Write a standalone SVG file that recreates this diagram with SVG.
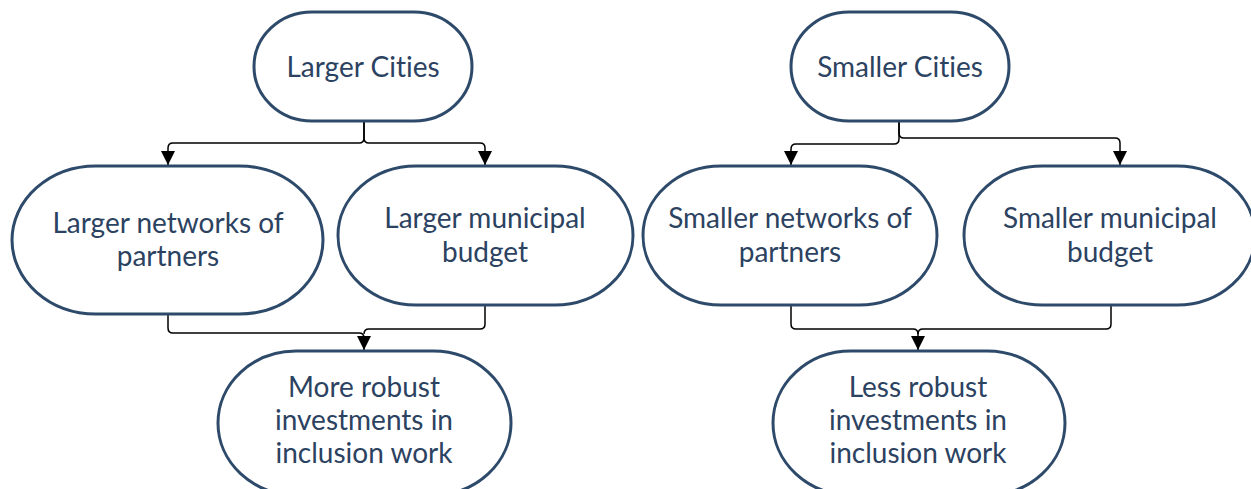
<svg xmlns="http://www.w3.org/2000/svg" width="1251" height="489" viewBox="0 0 1251 489">
  <defs>
    <marker id="arrow" viewBox="0 0 14 14" refX="14" refY="7" markerWidth="14" markerHeight="14" markerUnits="userSpaceOnUse" orient="auto">
      <path d="M0,0 L14,7 L0,14 Z" fill="#000"/>
    </marker>
    <style>
      .node { fill: #fff; stroke: #2e4a6a; stroke-width: 3; }
      .label { font-family: Lato, "Liberation Sans", sans-serif; font-size: 28px; fill: #2c4261; text-anchor: middle; font-variant-ligatures: none; }
      .edge { fill: none; stroke: #000; stroke-width: 1.5; }
      .head { marker-end: url(#arrow); }
    </style>
  </defs>
  <rect width="1251" height="489" fill="#fff"/>

  <!-- connectors -->
  <g id="connectors">
    <!-- Larger Cities fan-out -->
    <path class="edge head" d="M364,121 V138 Q364,143 359,143 H173 Q168,143 168,148 V165"/>
    <path class="edge head" d="M364,121 V138 Q364,143 369,143 H480 Q485,143 485,148 V165"/>
    <!-- Larger branch merge -->
    <path class="edge head" d="M168,314 V328 Q168,333 173,333 H359 Q364,333 364,338 V350"/>
    <path class="edge" d="M485,305 V324 Q485,329 480,329 H369 Q364,329 364,334"/>
    <!-- Smaller Cities fan-out -->
    <path class="edge head" d="M899,121 V139 Q899,144 894,144 H796 Q791,144 791,149 V165"/>
    <path class="edge head" d="M899,121 V133 Q899,138 904,138 H1115 Q1120,138 1120,143 V165"/>
    <!-- Smaller branch merge -->
    <path class="edge head" d="M791,305 V324 Q791,329 796,329 H913 Q918,329 918,334 V350"/>
    <path class="edge" d="M1111,305 V324 Q1111,329 1106,329 H923 Q918,329 918,334"/>
  </g>

  <g id="larger-cities">
    <rect class="node" x="254" y="12" width="218" height="109" rx="58" ry="54.5"/>
    <text class="label" x="363" y="77">Larger Cities</text>
  </g>
  <g id="larger-networks">
    <rect class="node" x="12" y="166" width="311" height="148" rx="84" ry="74"/>
    <text class="label" x="168" y="233">Larger networks of</text>
    <text class="label" x="168" y="266">partners</text>
  </g>
  <g id="larger-budget">
    <rect class="node" x="338" y="166" width="295" height="139" rx="78" ry="69.5"/>
    <text class="label" x="485" y="228">Larger municipal</text>
    <text class="label" x="485" y="262">budget</text>
  </g>
  <g id="more-robust">
    <rect class="node" x="218" y="351" width="293" height="144" rx="78" ry="72"/>
    <text class="label" x="364" y="397">More robust</text>
    <text class="label" x="364" y="430">investments in</text>
    <text class="label" x="364" y="463">inclusion work</text>
  </g>

  <g id="smaller-cities">
    <rect class="node" x="791" y="12" width="218" height="109" rx="58" ry="54.5"/>
    <text class="label" x="900" y="77">Smaller Cities</text>
  </g>
  <g id="smaller-networks">
    <rect class="node" x="643" y="166" width="294" height="139" rx="78" ry="69.5"/>
    <text class="label" x="790" y="228">Smaller networks of</text>
    <text class="label" x="790" y="262">partners</text>
  </g>
  <g id="smaller-budget">
    <rect class="node" x="964" y="166" width="291" height="139" rx="78" ry="69.5"/>
    <text class="label" x="1110" y="228">Smaller municipal</text>
    <text class="label" x="1110" y="262">budget</text>
  </g>
  <g id="less-robust">
    <rect class="node" x="773" y="351" width="292" height="144" rx="78" ry="72"/>
    <text class="label" x="918" y="397">Less robust</text>
    <text class="label" x="918" y="430">investments in</text>
    <text class="label" x="918" y="463">inclusion work</text>
  </g>
</svg>
